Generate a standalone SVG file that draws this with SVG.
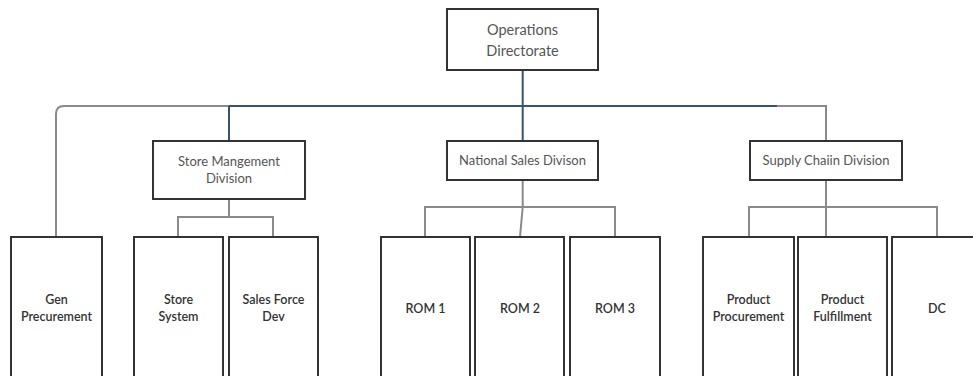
<svg xmlns="http://www.w3.org/2000/svg" width="973" height="376" viewBox="0 0 973 376">
<style>
.box{fill:#fff;stroke:#333;stroke-width:2}
.t{font-family:Lato,"Liberation Sans",sans-serif;font-size:13px;fill:#555;text-anchor:middle}
.big{font-size:14.5px}
.b{font-family:Lato,"Liberation Sans",sans-serif;font-size:12.5px;fill:#333;font-weight:600;text-anchor:middle}
.g{fill:none;stroke:#8a8a8a;stroke-width:2}
.bl{fill:none;stroke:#3b5170;stroke-width:2}
</style>
<rect width="973" height="376" fill="#fff"/>
<g id="connectors">
<path class="g" d="M229 106 H64 Q56 106 56 114 V237"/>
<path class="g" d="M777 106 H826 V141"/>
<path class="bl" d="M229 106 H777"/>
<path class="bl" d="M522.7 70 V141"/>
<path class="bl" d="M229 106 V141"/>
<path class="g" d="M229 199 V217 M178 237 V217 H273 V237"/>
<path class="g" d="M522.7 180 V207 M425 237 V207 H615 V237 M522.7 207 L520 237"/>
<path class="g" d="M826 180 V237 M749 237 V207 H937 V237"/>
</g>
<g id="n-ops"><rect class="box" x="447" y="9" width="151" height="61"/><text class="t big" x="522.5" y="35">Operations</text><text class="t big" x="522.5" y="56">Directorate</text></g>
<g id="n-store"><rect class="box" x="153" y="141" width="152" height="58"/><text class="t" x="229" y="166">Store Mangement</text><text class="t" x="229" y="183">Division</text></g>
<g id="n-nat"><rect class="box" x="447" y="141" width="151" height="39"/><text class="t" x="522.5" y="165">National Sales Divison</text></g>
<g id="n-supply"><rect class="box" x="750" y="141" width="152" height="39"/><text class="t" x="826" y="165">Supply Chaiin Division</text></g>
<g id="n-gen"><rect class="box" x="11" y="237" width="91" height="160"/><text class="b" x="56.5" y="304">Gen</text><text class="b" x="56.5" y="321">Precurement</text></g>
<g id="n-storesys"><rect class="box" x="134" y="237" width="89" height="160"/><text class="b" x="178.5" y="304">Store</text><text class="b" x="178.5" y="321">System</text></g>
<g id="n-sfd"><rect class="box" x="229" y="237" width="89" height="160"/><text class="b" x="273.5" y="304">Sales Force</text><text class="b" x="273.5" y="321">Dev</text></g>
<g id="n-rom1"><rect class="box" x="381" y="237" width="89" height="160"/><text class="b" x="425.5" y="313">ROM 1</text></g>
<g id="n-rom2"><rect class="box" x="475" y="237" width="89" height="160"/><text class="b" x="520" y="313">ROM 2</text></g>
<g id="n-rom3"><rect class="box" x="570" y="237" width="90" height="160"/><text class="b" x="615" y="313">ROM 3</text></g>
<g id="n-pp"><rect class="box" x="703" y="237" width="91" height="160"/><text class="b" x="748.5" y="304">Product</text><text class="b" x="748.5" y="321">Procurement</text></g>
<g id="n-pf"><rect class="box" x="798" y="237" width="89" height="160"/><text class="b" x="842.5" y="304">Product</text><text class="b" x="842.5" y="321">Fulfillment</text></g>
<g id="n-dc"><rect class="box" x="892" y="237" width="90" height="160"/><text class="b" x="937" y="313">DC</text></g>
</svg>
